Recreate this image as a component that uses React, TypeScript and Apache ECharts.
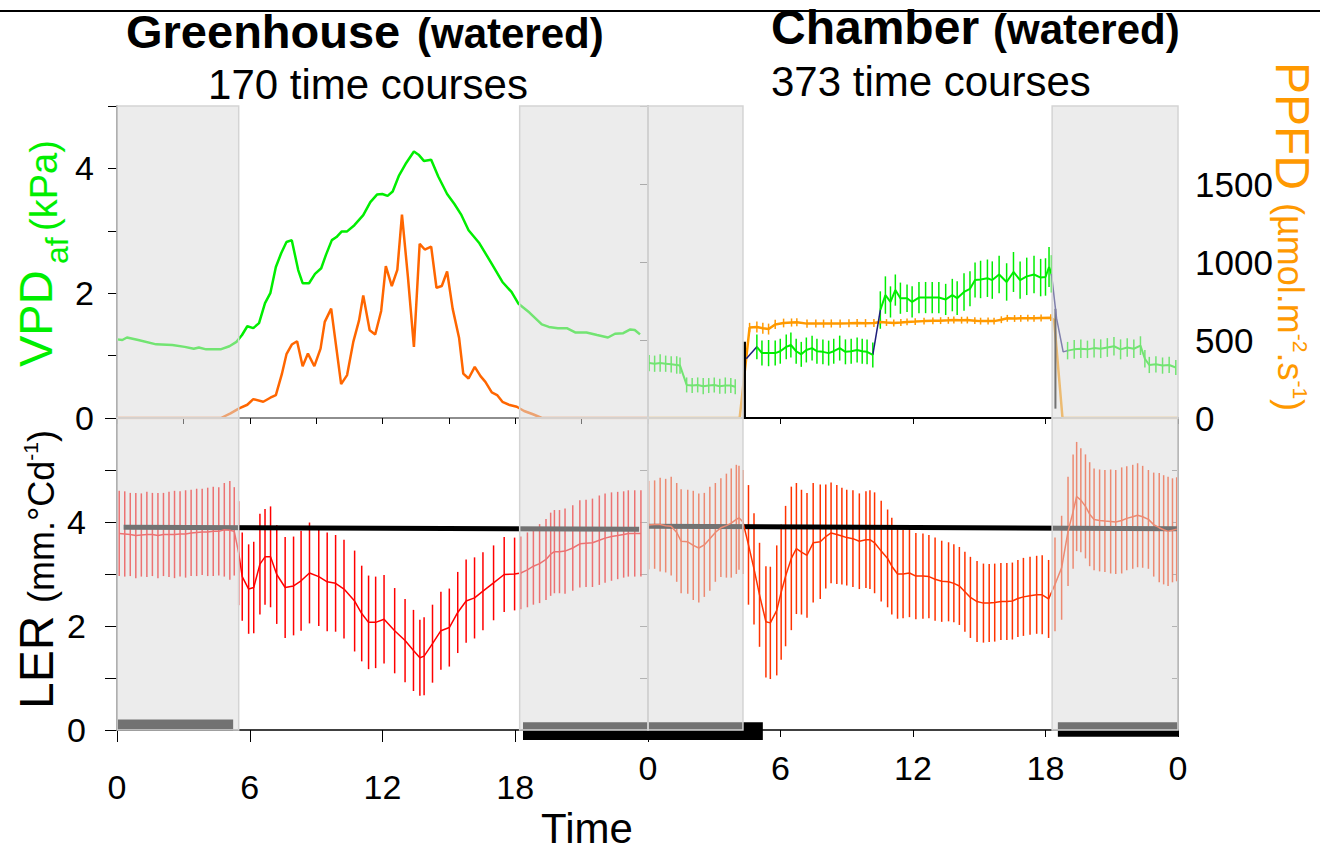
import React, { useEffect, useRef } from 'react';
import * as echarts from 'echarts';

const FONT = '"Liberation Sans", Arial, Helvetica, sans-serif';

// ---------- Greenhouse (top-left): VPD (kPa) and PPFD ----------
const GH_VPD: [number, number][] = [
  [0, 1.26], [0.24, 1.25], [0.45, 1.29], [0.96, 1.25], [1.77, 1.18], [2.5, 1.17], [3.06, 1.14], [3.47, 1.11],
  [3.7, 1.13], [4.03, 1.1], [4.68, 1.1], [5.08, 1.15], [5.4, 1.22], [5.65, 1.33], [5.89, 1.47], [6.16, 1.44],
  [6.42, 1.52], [6.69, 1.84], [6.93, 2.0], [7.18, 2.42], [7.42, 2.64], [7.66, 2.82], [7.9, 2.85], [8.19, 2.37],
  [8.39, 2.16], [8.68, 2.16], [8.95, 2.31], [9.23, 2.4], [9.44, 2.61], [9.71, 2.85], [9.92, 2.9], [10.16, 2.99],
  [10.4, 2.99], [10.73, 3.09], [11.13, 3.25], [11.45, 3.46], [11.75, 3.58], [11.99, 3.59], [12.23, 3.56],
  [12.46, 3.63], [12.75, 3.89], [13.04, 4.07], [13.42, 4.27], [13.63, 4.22], [13.87, 4.12], [14.2, 4.14],
  [14.52, 3.87], [14.92, 3.59], [15.25, 3.43], [15.57, 3.25], [15.89, 3.01], [16.38, 2.8], [16.94, 2.47],
  [17.42, 2.18], [17.83, 2.02], [18.15, 1.83], [18.64, 1.69], [19.2, 1.5], [19.52, 1.46], [19.93, 1.44],
  [20.33, 1.44], [20.73, 1.37], [21.22, 1.37], [21.7, 1.33], [22.19, 1.29], [22.51, 1.35], [22.88, 1.36],
  [23.2, 1.42], [23.4, 1.41], [23.64, 1.34],
];
const GH_PPFD: [number, number][] = [
  [0, 0], [4.7, 0], [5.13, 30], [5.52, 62], [5.89, 85], [6.16, 121], [6.61, 104], [6.93, 130], [7.18, 147],
  [7.45, 281], [7.66, 409], [7.9, 471], [8.14, 492], [8.39, 332], [8.63, 413], [8.92, 332], [9.2, 445],
  [9.39, 616], [9.68, 701], [10.13, 217], [10.4, 275], [10.68, 488], [10.94, 626], [11.13, 786], [11.42, 562],
  [11.67, 535], [11.94, 686], [12.15, 973], [12.42, 846], [12.67, 950], [12.88, 1304], [13.15, 903],
  [13.42, 456], [13.68, 1116], [13.91, 1080], [14.2, 1099], [14.44, 835], [14.68, 846], [14.92, 939],
  [15.17, 701], [15.46, 515], [15.65, 285], [15.89, 253], [16.17, 328], [16.43, 268], [16.65, 232],
  [16.94, 164], [17.18, 147], [17.42, 104], [17.75, 83], [18.07, 72], [18.4, 45], [18.8, 24], [19.2, 0], [24, 0],
];

// ---------- Chamber (top-right): VPD (kPa) [t, mean, sd] and PPFD [t, mean, sd] ----------
const CH_VPD_NIGHT1: [number, number, number][] = [
  [0.05, 0.88, 0.13], [0.3, 0.87, 0.13], [0.55, 0.88, 0.14], [0.8, 0.87, 0.13], [1.05, 0.86, 0.13],
  [1.3, 0.85, 0.14], [1.45, 0.84, 0.13], [1.75, 0.53, 0.12], [2.0, 0.52, 0.12], [2.25, 0.53, 0.12],
  [2.5, 0.51, 0.13], [2.75, 0.52, 0.12], [3.0, 0.53, 0.12], [3.25, 0.51, 0.12], [3.5, 0.52, 0.13],
  [3.75, 0.52, 0.12], [3.95, 0.5, 0.12],
];
const CH_VPD_DAY1: [number, number, number][] = [
  [4.93, 1.14, 0.2], [5.16, 1.04, 0.2], [5.46, 1.04, 0.21], [5.76, 1.04, 0.2], [5.99, 1.07, 0.2],
  [6.26, 1.14, 0.2], [6.47, 1.17, 0.2], [6.71, 1.07, 0.2], [6.94, 1.02, 0.2], [7.17, 1.09, 0.2],
  [7.43, 1.12, 0.2], [7.65, 1.07, 0.2], [7.92, 1.06, 0.2], [8.18, 1.04, 0.2], [8.41, 1.07, 0.2],
  [8.68, 1.12, 0.2], [8.94, 1.06, 0.2], [9.2, 1.07, 0.2], [9.47, 1.09, 0.2], [9.7, 1.07, 0.2],
  [9.92, 1.06, 0.2], [10.18, 1.01, 0.2],
];
const CH_VPD_DAY2: [number, number, number][] = [
  [10.52, 1.73, 0.3], [10.75, 1.97, 0.3], [10.98, 1.86, 0.25], [11.2, 2.05, 0.25], [11.43, 1.92, 0.25],
  [11.73, 1.92, 0.22], [11.96, 1.86, 0.25], [12.27, 1.93, 0.25], [12.57, 1.93, 0.25], [12.87, 1.93, 0.25],
  [13.17, 1.93, 0.25], [13.48, 1.9, 0.25], [13.78, 1.97, 0.26], [14.0, 1.92, 0.27], [14.31, 2.02, 0.3],
  [14.58, 2.07, 0.28], [14.81, 2.21, 0.28], [15.06, 2.22, 0.3], [15.37, 2.24, 0.3], [15.59, 2.21, 0.3],
  [15.9, 2.3, 0.3], [16.24, 2.18, 0.3], [16.55, 2.34, 0.32], [16.85, 2.21, 0.3], [17.15, 2.27, 0.3],
  [17.48, 2.3, 0.3], [17.78, 2.25, 0.3], [18.0, 2.26, 0.3], [18.16, 2.42, 0.32], [18.27, 2.31, 0.3],
];
const CH_VPD_NIGHT2: [number, number, number][] = [
  [19.0, 1.08, 0.14], [19.3, 1.1, 0.15], [19.6, 1.11, 0.15], [19.9, 1.1, 0.14], [20.2, 1.12, 0.15],
  [20.5, 1.11, 0.15], [20.8, 1.13, 0.15], [21.1, 1.15, 0.15], [21.4, 1.1, 0.16], [21.7, 1.13, 0.15],
  [22.0, 1.11, 0.15], [22.3, 1.16, 0.15], [22.5, 0.95, 0.14], [22.7, 0.85, 0.13], [23.0, 0.86, 0.13],
  [23.3, 0.84, 0.13], [23.6, 0.85, 0.13], [23.9, 0.81, 0.12],
];
const CH_VPD_LINK1: [number, number][] = [[4.45, 0.95], [4.93, 1.14]];
const CH_VPD_LINK2: [number, number][] = [[10.18, 1.01], [10.52, 1.73]];
const CH_VPD_LINK3: [number, number][] = [[18.27, 2.31], [18.5, 1.6], [18.8, 1.06], [19.0, 1.08]];
const CH_LAMP_ON: [number, number][] = [[4.38, 0], [4.38, 1.22]];
const CH_LAMP_OFF: [number, number][] = [[18.45, 0.15], [18.45, 1.75]];
const CH_PPFD: [number, number, number][] = [
  [0, 0, 0], [4.15, 0, 0], [4.6, 580, 30], [4.93, 583, 35], [5.2, 575, 35], [5.46, 570, 35], [5.76, 600, 30],
  [6.14, 609, 28], [6.5, 612, 26], [6.74, 614, 26], [7.2, 605, 26], [7.6, 606, 26], [7.95, 605, 26],
  [8.3, 606, 26], [8.7, 605, 26], [9.1, 607, 26], [9.47, 609, 26], [9.85, 608, 26], [10.23, 609, 26],
  [10.52, 616, 22], [10.8, 612, 22], [11.13, 609, 22], [11.45, 612, 22], [11.73, 616, 22], [12.1, 618, 22],
  [12.5, 621, 22], [12.9, 623, 22], [13.25, 624, 22], [13.6, 626, 22], [13.85, 628, 22], [14.2, 627, 22],
  [14.46, 628, 22], [14.8, 624, 22], [15.06, 621, 22], [15.4, 622, 22], [15.67, 621, 22], [16.0, 630, 22],
  [16.27, 639, 22], [16.6, 638, 22], [16.88, 639, 22], [17.2, 640, 22], [17.48, 639, 22], [17.8, 641, 22],
  [18.24, 643, 22], [18.39, 628, 0], [18.77, 0, 0], [24, 0, 0],
];

// ---------- LER (mm.°Cd-1) [t, mean, sd] ----------
const GH_LER: [number, number, number][] = [
  [0.1, 3.78, 0.82], [0.35, 3.77, 0.82], [0.6, 3.76, 0.8], [0.85, 3.74, 0.82], [1.1, 3.75, 0.8],
  [1.35, 3.76, 0.82], [1.6, 3.76, 0.8], [1.85, 3.74, 0.82], [2.1, 3.76, 0.8], [2.35, 3.76, 0.82],
  [2.6, 3.76, 0.84], [2.85, 3.77, 0.82], [3.1, 3.77, 0.84], [3.35, 3.79, 0.83], [3.6, 3.8, 0.84],
  [3.85, 3.81, 0.83], [4.1, 3.81, 0.85], [4.35, 3.82, 0.86], [4.6, 3.82, 0.85], [4.85, 3.85, 0.9],
  [5.1, 3.84, 0.95], [5.3, 3.82, 0.85], [5.5, 3.4, 1.0],
  [5.66, 2.95, 0.85], [5.95, 2.71, 0.86], [6.18, 2.74, 0.88], [6.46, 3.19, 0.97], [6.69, 3.33, 0.92],
  [6.94, 3.33, 0.97], [7.22, 2.99, 0.95], [7.6, 2.74, 0.97], [7.98, 2.77, 0.95], [8.32, 2.87, 0.96],
  [8.7, 3.02, 0.97], [9.12, 2.95, 0.95], [9.5, 2.85, 0.95], [9.88, 2.82, 0.93], [10.26, 2.71, 0.95],
  [10.74, 2.48, 0.97], [11.06, 2.24, 0.92], [11.37, 2.07, 0.9], [11.69, 2.07, 0.88], [12.07, 2.13, 0.85],
  [12.55, 1.91, 0.82], [13.02, 1.72, 0.8], [13.4, 1.53, 0.78], [13.69, 1.39, 0.73], [13.88, 1.42, 0.75],
  [14.26, 1.66, 0.75], [14.64, 1.91, 0.75], [15.02, 1.97, 0.75], [15.4, 2.26, 0.78], [15.78, 2.48, 0.8],
  [16.16, 2.54, 0.78], [16.54, 2.67, 0.75], [17.02, 2.83, 0.72], [17.5, 2.99, 0.72], [17.97, 3.0, 0.7],
  [18.25, 3.02, 0.7], [18.55, 3.08, 0.72], [18.82, 3.15, 0.74], [19.1, 3.2, 0.76], [19.39, 3.28, 0.78],
  [19.6, 3.38, 0.8], [19.77, 3.43, 0.8], [20.0, 3.43, 0.8], [20.25, 3.44, 0.82], [20.6, 3.5, 0.82],
  [20.92, 3.58, 0.84], [21.2, 3.59, 0.84], [21.49, 3.6, 0.85], [21.8, 3.65, 0.86], [22.06, 3.69, 0.86],
  [22.35, 3.72, 0.85], [22.63, 3.74, 0.84], [22.9, 3.76, 0.83], [23.11, 3.78, 0.83], [23.4, 3.78, 0.83],
  [23.68, 3.78, 0.83],
];
const CH_LER: [number, number, number][] = [
  [0.03, 3.94, 0.85], [0.3, 3.95, 0.85], [0.55, 3.95, 0.9], [0.8, 3.93, 0.9], [1.05, 3.92, 0.95],
  [1.3, 3.8, 0.95], [1.5, 3.63, 1.0], [1.8, 3.62, 1.0], [2.05, 3.55, 1.05], [2.3, 3.5, 1.05],
  [2.55, 3.56, 1.0], [2.8, 3.68, 1.0], [3.05, 3.8, 0.95], [3.3, 3.89, 0.95], [3.55, 3.93, 1.0],
  [3.77, 3.98, 1.05], [4.0, 4.05, 1.05], [4.12, 4.08, 1.0], [4.3, 4.0, 1.0],
  [4.55, 3.56, 1.15], [4.8, 3.1, 1.07], [5.05, 2.6, 1.0], [5.34, 2.08, 1.07], [5.54, 2.06, 1.08],
  [5.83, 2.3, 1.25], [6.03, 2.65, 1.3], [6.23, 2.96, 1.35], [6.49, 3.3, 1.38], [6.72, 3.49, 1.26],
  [6.95, 3.42, 1.2], [7.2, 3.36, 1.2], [7.48, 3.6, 1.15], [7.8, 3.62, 1.1], [8.05, 3.72, 1.0],
  [8.29, 3.79, 0.97], [8.55, 3.76, 0.95], [8.78, 3.73, 0.93], [9.0, 3.7, 0.92], [9.28, 3.68, 0.93],
  [9.57, 3.63, 0.92], [9.87, 3.66, 0.93], [10.05, 3.66, 0.95], [10.26, 3.6, 0.97], [10.56, 3.44, 0.97],
  [10.85, 3.3, 0.94], [11.04, 3.15, 0.93], [11.3, 3.0, 0.86], [11.55, 3.0, 0.85], [11.84, 3.02, 0.85],
  [12.13, 2.96, 0.83], [12.45, 2.96, 0.82], [12.72, 2.95, 0.8], [13.0, 2.9, 0.8], [13.3, 2.86, 0.78],
  [13.61, 2.85, 0.76], [13.85, 2.82, 0.75], [14.1, 2.77, 0.75], [14.35, 2.66, 0.77], [14.6, 2.55, 0.78],
  [14.9, 2.47, 0.78], [15.19, 2.44, 0.76], [15.45, 2.44, 0.75], [15.7, 2.45, 0.75], [15.98, 2.47, 0.74],
  [16.25, 2.47, 0.74], [16.5, 2.48, 0.74], [16.75, 2.53, 0.74], [17.0, 2.56, 0.75], [17.3, 2.58, 0.75],
  [17.6, 2.6, 0.75], [17.85, 2.6, 0.76], [18.14, 2.52, 0.75],
  [18.43, 2.8, 0.9], [18.73, 3.12, 1.0], [19.02, 3.82, 1.05], [19.25, 4.2, 1.1], [19.41, 4.49, 1.05],
  [19.6, 4.42, 1.0], [19.81, 4.3, 1.0], [20.0, 4.15, 1.0], [20.2, 4.05, 0.98], [20.45, 4.03, 0.98],
  [20.69, 4.02, 0.98], [20.95, 4.01, 1.0], [21.18, 4.0, 1.0], [21.45, 4.03, 1.02], [21.68, 4.07, 1.0],
  [21.95, 4.1, 1.0], [22.17, 4.13, 1.0], [22.4, 4.1, 0.98], [22.66, 4.05, 0.95], [22.9, 3.95, 1.0],
  [23.15, 3.89, 1.05], [23.35, 3.85, 1.05], [23.55, 3.82, 1.05], [23.75, 3.84, 1.0], [23.94, 3.86, 1.0],
];
const GH_REF: [number, number][] = [[0.3, 3.9], [23.6, 3.86]];
const CH_REF: [number, number][] = [[0.05, 3.92], [23.95, 3.87]];

// night / light-off bars: [t start, t end, low, high] in LER units
const GH_BARS: [number, number, number, number][] = [[0.03, 5.25, -0.02, 0.2], [18.35, 24, -0.19, 0.15]];
const CH_BARS: [number, number, number, number][] = [[0, 5.2, -0.19, 0.15], [18.56, 24, -0.13, 0.15]];

// night periods [start, end] (hours)
const GH_NIGHT: [number, number][] = [[0, 5.5], [18.2, 24]];
const CH_NIGHT: [number, number][] = [[0, 4.3], [18.3, 24]];

const errItem = (w: number) => (params: any, api: any) => {
  const e = api.value(2);
  if (!e) return null;
  const t = api.value(0);
  const v = api.value(1);
  const a = api.coord([t, v - e]);
  const b = api.coord([t, v + e]);
  return {
    type: 'line',
    shape: { x1: a[0], y1: a[1], x2: b[0], y2: b[1] },
    style: { stroke: api.visual('color'), lineWidth: w },
  };
};

const shadeItem = (params: any, api: any) => {
  const cs = params.coordSys;
  const a = api.coord([api.value(0), 0]);
  const b = api.coord([api.value(1), 0]);
  return {
    type: 'rect',
    shape: { x: a[0], y: cs.y, width: b[0] - a[0], height: cs.height },
    style: { fill: 'rgba(218,218,218,0.52)', stroke: '#d4d4d4', lineWidth: 1.5 },
  };
};

const barItem = (params: any, api: any) => {
  const a = api.coord([api.value(0), api.value(3)]);
  const b = api.coord([api.value(1), api.value(2)]);
  return {
    type: 'rect',
    shape: { x: a[0], y: a[1], width: b[0] - a[0], height: b[1] - a[1] },
    style: { fill: '#000' },
  };
};

const line = (data: any[], xi: number, yi: number, color: string, width: number) => ({
  type: 'line', data, xAxisIndex: xi, yAxisIndex: yi, showSymbol: false, symbol: 'none', silent: true,
  lineStyle: { color, width }, itemStyle: { color }, z: 2,
});
const err = (data: any[], xi: number, yi: number, color: string, width: number) => ({
  type: 'custom', data, xAxisIndex: xi, yAxisIndex: yi, renderItem: errItem(width), silent: true,
  itemStyle: { color }, encode: { x: 0, y: 1 }, z: 2,
});
const shade = (data: any[], xi: number, yi: number) => ({
  type: 'custom', data, xAxisIndex: xi, yAxisIndex: yi, renderItem: shadeItem, silent: true,
  encode: { x: [0, 1] }, z: 5,
});
const bars = (data: any[], xi: number, yi: number) => ({
  type: 'custom', data, xAxisIndex: xi, yAxisIndex: yi, renderItem: barItem, silent: true, clip: false,
  encode: { x: [0, 1], y: [2, 3] }, z: 2,
});

const tickLbl = { color: '#000', fontSize: 34, fontFamily: FONT };
const noSplit = { show: false };

const xBase = (grid: number, interval: number) => ({
  gridIndex: grid, type: 'value', min: 0, max: 24, interval, splitLine: noSplit,
});

const option: any = {
  animation: false,
  backgroundColor: '#fff',
  grid: [
    { left: 117, top: 106, width: 531, height: 312 },
    { left: 648, top: 106, width: 530, height: 312 },
    { left: 117, top: 418, width: 531, height: 312 },
    { left: 648, top: 418, width: 530, height: 312 },
  ],
  xAxis: [
    { ...xBase(0, 3), position: 'bottom', axisLine: { lineStyle: { color: '#000', width: 1.5 } },
      axisTick: { show: true, length: 6, lineStyle: { color: '#000' } }, axisLabel: { show: false } },
    { ...xBase(1, 6), position: 'bottom', axisLine: { lineStyle: { color: '#000', width: 1.5 } },
      axisTick: { show: true, length: 6, lineStyle: { color: '#000' } }, axisLabel: { show: false } },
    { ...xBase(2, 6), position: 'bottom', axisLine: { lineStyle: { color: '#000', width: 1.5 } },
      axisTick: { show: true, length: 12, lineStyle: { color: '#000' } },
      axisLabel: { ...tickLbl, margin: 40, formatter: (v: number) => (v === 24 ? '' : String(v)) } },
    { ...xBase(3, 6), position: 'bottom', axisLine: { lineStyle: { color: '#000', width: 1.5 } },
      axisTick: { show: true, length: 7, lineStyle: { color: '#000' } },
      axisLabel: { ...tickLbl, margin: 21, formatter: (v: number) => (v === 24 ? '0' : String(v)) } },
    { ...xBase(0, 6), position: 'top', axisLine: { lineStyle: { color: '#a8a8a8', width: 1.5 } },
      axisTick: { show: false }, axisLabel: { show: false } },
    { ...xBase(1, 6), position: 'top', axisLine: { lineStyle: { color: '#000', width: 2 } },
      axisTick: { show: false }, axisLabel: { show: false } },
  ],
  yAxis: [
    { gridIndex: 0, type: 'value', min: 0, max: 5, interval: 1, position: 'left', splitLine: noSplit,
      axisLine: { show: true, lineStyle: { color: '#000', width: 1.5 } },
      axisTick: { show: true, length: 9, lineStyle: { color: '#000' } },
      axisLabel: { ...tickLbl, margin: 23, formatter: (v: number) => (v % 2 === 0 ? String(v) : '') } },
    { gridIndex: 0, type: 'value', min: 0, max: 2000, show: false, splitLine: noSplit },
    { gridIndex: 1, type: 'value', min: 0, max: 5, show: false, splitLine: noSplit },
    { gridIndex: 1, type: 'value', min: 0, max: 2000, interval: 500, position: 'right', splitLine: noSplit,
      axisLine: { show: true, lineStyle: { color: '#000', width: 1.5 } },
      axisTick: { show: true, inside: true, length: 8, lineStyle: { color: '#888' } },
      axisLabel: { ...tickLbl, fontSize: 35, margin: 17, formatter: (v: number) => (v === 2000 ? '' : String(v)) } },
    { gridIndex: 1, type: 'value', min: 0, max: 2000, interval: 500, position: 'left', splitLine: noSplit,
      axisLine: { show: true, lineStyle: { color: '#777', width: 1.5 } },
      axisTick: { show: true, length: 8, lineStyle: { color: '#777' } }, axisLabel: { show: false } },
    { gridIndex: 2, type: 'value', min: 0, max: 6, interval: 1, position: 'left', splitLine: noSplit,
      axisLine: { show: true, lineStyle: { color: '#000', width: 1.5 } },
      axisTick: { show: true, length: 12, lineStyle: { color: '#000' } },
      axisLabel: { ...tickLbl, margin: 31, formatter: (v: number) => (v === 0 || v === 2 || v === 4 ? String(v) : '') } },
    { gridIndex: 3, type: 'value', min: 0, max: 6, interval: 1, position: 'left', splitLine: noSplit,
      axisLine: { show: true, lineStyle: { color: '#888', width: 1.5 } },
      axisTick: { show: true, length: 8, lineStyle: { color: '#888' } }, axisLabel: { show: false } },
    { gridIndex: 3, type: 'value', min: 0, max: 6, interval: 1, position: 'right', splitLine: noSplit,
      axisLine: { show: true, lineStyle: { color: '#333', width: 1.5 } },
      axisTick: { show: true, inside: true, length: 6, lineStyle: { color: '#888' } }, axisLabel: { show: false } },
  ],
  series: [
    // greenhouse top
    line(GH_PPFD, 0, 1, '#ff6600', 2.5),
    line(GH_VPD, 0, 0, '#00ee00', 2.5),
    shade(GH_NIGHT, 0, 0),
    // chamber top
    line(CH_PPFD, 1, 3, '#ff9900', 2.5),
    err(CH_PPFD, 1, 3, '#ff9900', 1.5),
    line(CH_LAMP_ON, 1, 2, '#000', 2.5),
    line(CH_LAMP_OFF, 1, 2, '#000', 2),
    line(CH_VPD_LINK1, 1, 2, '#1c1c7a', 1.5),
    line(CH_VPD_LINK2, 1, 2, '#1c1c7a', 1.5),
    line(CH_VPD_LINK3, 1, 2, '#1c1c7a', 1.5),
    line(CH_VPD_NIGHT1, 1, 2, '#00ee00', 2),
    err(CH_VPD_NIGHT1, 1, 2, '#00ee00', 1.5),
    line(CH_VPD_DAY1, 1, 2, '#00ee00', 2),
    err(CH_VPD_DAY1, 1, 2, '#00ee00', 1.5),
    line(CH_VPD_DAY2, 1, 2, '#00ee00', 2),
    err(CH_VPD_DAY2, 1, 2, '#00ee00', 1.5),
    line(CH_VPD_NIGHT2, 1, 2, '#00ee00', 2),
    err(CH_VPD_NIGHT2, 1, 2, '#00ee00', 1.5),
    shade(CH_NIGHT, 1, 2),
    // greenhouse LER
    line(GH_REF, 2, 5, '#000', 5),
    err(GH_LER, 2, 5, '#ff0000', 1.5),
    line(GH_LER, 2, 5, '#ff0000', 1.5),
    bars(GH_BARS, 2, 5),
    shade(GH_NIGHT, 2, 5),
    // chamber LER
    line(CH_REF, 3, 6, '#000', 5),
    err(CH_LER, 3, 6, '#ff3300', 1.5),
    line(CH_LER, 3, 6, '#ff3300', 1.5),
    bars(CH_BARS, 3, 6),
    shade(CH_NIGHT, 3, 6),
  ],
  graphic: [
    { type: 'line', shape: { x1: 0, y1: 11, x2: 1320, y2: 11 }, style: { stroke: '#000', lineWidth: 2 } },
    { type: 'text', x: 126, y: 31, style: { text: 'Greenhouse', fontSize: 47, fontWeight: 'bold', fontFamily: FONT, fill: '#000', align: 'left', verticalAlign: 'middle' } },
    { type: 'text', x: 417, y: 33, style: { text: '(watered)', fontSize: 42, fontWeight: 'bold', fontFamily: FONT, fill: '#000', align: 'left', verticalAlign: 'middle' } },
    { type: 'text', x: 368, y: 84, style: { text: '170 time courses', fontSize: 42, fontFamily: FONT, fill: '#000', align: 'center', verticalAlign: 'middle' } },
    { type: 'text', x: 771, y: 27, style: { text: 'Chamber', fontSize: 48, fontWeight: 'bold', fontFamily: FONT, fill: '#000', align: 'left', verticalAlign: 'middle' } },
    { type: 'text', x: 993, y: 29, style: { text: '(watered)', fontSize: 42, fontWeight: 'bold', fontFamily: FONT, fill: '#000', align: 'left', verticalAlign: 'middle' } },
    { type: 'text', x: 771, y: 81, style: { text: '373 time courses', fontSize: 42, fontFamily: FONT, fill: '#000', align: 'left', verticalAlign: 'middle' } },
    // VPD axis name
    { type: 'text', x: 35, y: 367, rotation: Math.PI / 2, style: { text: 'VPD', fontSize: 47, fontFamily: FONT, fill: '#00ee00', align: 'left', verticalAlign: 'middle' } },
    { type: 'text', x: 57, y: 264, rotation: Math.PI / 2, style: { text: 'af', fontSize: 32, fontFamily: FONT, fill: '#00ee00', align: 'left', verticalAlign: 'middle' } },
    { type: 'text', x: 44, y: 231, rotation: Math.PI / 2, style: { text: '(kPa)', fontSize: 38, fontFamily: FONT, fill: '#00ee00', align: 'left', verticalAlign: 'middle' } },
    // PPFD axis name
    { type: 'text', x: 1292, y: 62, rotation: -Math.PI / 2, style: { text: 'PPFD', fontSize: 48, fontFamily: FONT, fill: '#ff9900', align: 'left', verticalAlign: 'middle' } },
    { type: 'text', x: 1290, y: 203, rotation: -Math.PI / 2, style: {
      text: '{m|(µmol.m}{s|-2}{m|.s}{s|-1}{m|)}', fontFamily: FONT, fill: '#ff9900', align: 'left', verticalAlign: 'middle',
      rich: { m: { fontSize: 36, fontFamily: FONT, fill: '#ff9900', color: '#ff9900', lineHeight: 42 },
              s: { fontSize: 21, fontFamily: FONT, fill: '#ff9900', color: '#ff9900', verticalAlign: 'top' } } } },
    // LER axis name
    { type: 'text', x: 36, y: 709, rotation: Math.PI / 2, style: { text: 'LER', fontSize: 48, fontFamily: FONT, fill: '#000', align: 'left', verticalAlign: 'middle' } },
    { type: 'text', x: 41, y: 603, rotation: Math.PI / 2, style: {
      text: '{m|(mm.°Cd}{s|-1}{m|)}', fontFamily: FONT, fill: '#000', align: 'left', verticalAlign: 'middle',
      rich: { m: { fontSize: 36, fontFamily: FONT, fill: '#000', color: '#000', lineHeight: 42 },
              s: { fontSize: 21, fontFamily: FONT, fill: '#000', color: '#000', verticalAlign: 'top' } } } },
    { type: 'text', x: 587, y: 828, style: { text: 'Time', fontSize: 42, fontFamily: FONT, fill: '#000', align: 'center', verticalAlign: 'middle' } },
  ],
};

export default function App() {
  const ref = useRef<HTMLDivElement>(null);
  useEffect(() => {
    const chart = echarts.init(ref.current as HTMLDivElement, null, { renderer: 'svg' });
    chart.setOption(option);
    return () => chart.dispose();
  }, []);
  return (
    <div
      ref={ref}
      style={{ position: 'fixed', left: 0, top: 0, width: 1320, height: 853, background: '#fff' }}
    />
  );
}
